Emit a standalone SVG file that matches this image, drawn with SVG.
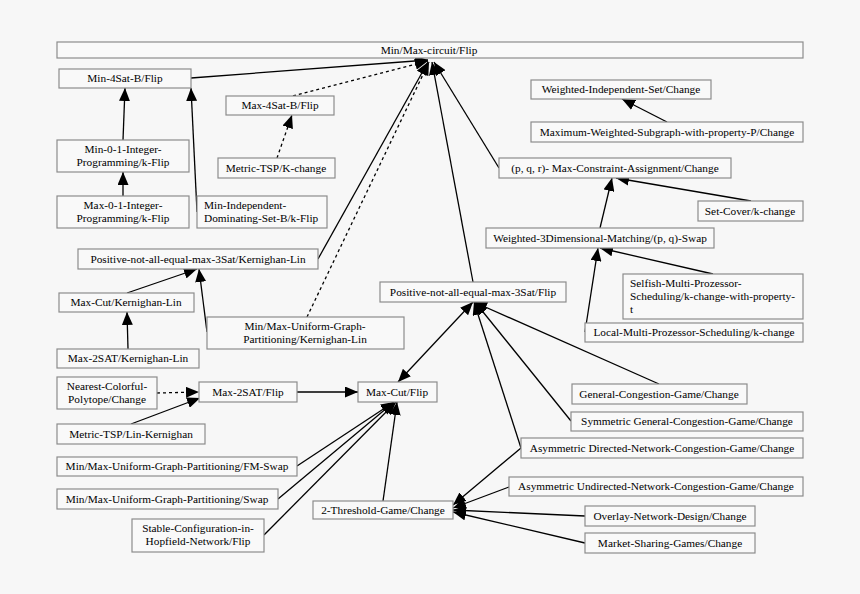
<svg xmlns="http://www.w3.org/2000/svg" width="860" height="594" viewBox="0 0 860 594">
<defs>
<style>
.n rect{fill:#f9f9f9;stroke:#8c8c8c;stroke-width:1.2}
.n text{font-family:"Liberation Serif","Times New Roman",serif;font-size:11.3px;fill:#000}
.c{text-anchor:middle}
#edges path{fill:none;stroke:#000;stroke-width:1.3;marker-end:url(#ah)}
#edges path.d{stroke-dasharray:3,3}
</style>
<marker id="ah" markerUnits="userSpaceOnUse" markerWidth="13" markerHeight="11" refX="13" refY="5.5" orient="auto"><path d="M0,0 L13,5.5 L0,11 z" fill="#000"/></marker>
<marker id="as" markerUnits="userSpaceOnUse" markerWidth="13" markerHeight="11" refX="13" refY="5.5" orient="auto-start-reverse"><path d="M0,0 L13,5.5 L0,11 z" fill="#000"/></marker>
</defs>
<rect width="860" height="594" fill="#f7f7f7"/>
<g id="edges">
<path d="M191,78 L428,60"/>
<path class="d" d="M293,96 L428,61"/>
<path class="d" d="M277,158 L292,115"/>
<path d="M123,140 L125,88"/>
<path d="M123,196 L123,172"/>
<path d="M197,212 L191,88"/>
<path d="M318,259 L428,62"/>
<path class="d" d="M307,317 L429,62"/>
<path d="M473,282 L432,62"/>
<path d="M499,168 L434,62"/>
<path d="M667,122 L622,99"/>
<path d="M751,201 L616,178"/>
<path d="M600,228 L612,178"/>
<path d="M713,274 L600,248"/>
<path d="M585,332 L598,248"/>
<path d="M127,293 L197,269"/>
<path d="M207,332 L199,269"/>
<path d="M128,349 L127,312"/>
<path class="d" d="M157,393 L199,392"/>
<path d="M131,424 L200,398"/>
<path d="M297,392 L358,392"/>
<path d="M398,382 L473,302" style="marker-start:url(#as)"/>
<path d="M659,384 L474,302"/>
<path d="M571,421 L475,302"/>
<path d="M521,448 L474,302"/>
<path d="M521,448 L453,505"/>
<path d="M509,487 L453,508"/>
<path d="M585,516 L453,510"/>
<path d="M585,543 L453,512"/>
<path d="M383,501 L397,402"/>
<path d="M297,466 L394,402"/>
<path d="M278,499 L394,402"/>
<path d="M264,535 L396,402"/>
</g>
<g id="n1" class="n"><rect x="57" y="42" width="746" height="16"/><text class="c" x="429" y="54">Min/Max-circuit/Flip</text></g>
<g id="n2" class="n"><rect x="59" y="69" width="132" height="19"/><text class="c" x="125" y="82">Min-4Sat-B/Flip</text></g>
<g id="n3" class="n"><rect x="226" y="96" width="108" height="19"/><text class="c" x="280" y="109">Max-4Sat-B/Flip</text></g>
<g id="n4" class="n"><rect x="531" y="80" width="180" height="19"/><text class="c" x="621" y="93">Weighted-Independent-Set/Change</text></g>
<g id="n5" class="n"><rect x="531" y="122" width="272" height="20"/><text class="c" x="667" y="136">Maximum-Weighted-Subgraph-with-property-P/Change</text></g>
<g id="n6" class="n"><rect x="57" y="140" width="132" height="32"/><text class="c" x="123" y="153">Min-0-1-Integer-</text><text class="c" x="123" y="166">Programming/k-Flip</text></g>
<g id="n7" class="n"><rect x="218" y="158" width="117" height="20"/><text class="c" x="276" y="172">Metric-TSP/K-change</text></g>
<g id="n8" class="n"><rect x="499" y="158" width="232" height="20"/><text class="c" x="615" y="172">(p, q, r)- Max-Constraint-Assignment/Change</text></g>
<g id="n9" class="n"><rect x="57" y="196" width="132" height="32"/><text class="c" x="123" y="209">Max-0-1-Integer-</text><text class="c" x="123" y="222">Programming/k-Flip</text></g>
<g id="n10" class="n"><rect x="197" y="196" width="130" height="32"/><text x="204" y="209">Min-Independent-</text><text x="204" y="222">Dominating-Set-B/k-Flip</text></g>
<g id="n11" class="n"><rect x="698" y="201" width="105" height="20"/><text class="c" x="750" y="215">Set-Cover/k-change</text></g>
<g id="n12" class="n"><rect x="486" y="228" width="228" height="20"/><text class="c" x="600" y="242">Weighted-3Dimensional-Matching/(p, q)-Swap</text></g>
<g id="n13" class="n"><rect x="78" y="249" width="240" height="20"/><text class="c" x="198" y="263">Positive-not-all-equal-max-3Sat/Kernighan-Lin</text></g>
<g id="n14" class="n"><rect x="623" y="274" width="180" height="45"/><text x="630" y="287">Selfish-Multi-Prozessor-</text><text x="630" y="300">Scheduling/k-change-with-property-</text><text x="630" y="313">t</text></g>
<g id="n15" class="n"><rect x="380" y="282" width="186" height="20"/><text class="c" x="473" y="296">Positive-not-all-equal-max-3Sat/Flip</text></g>
<g id="n16" class="n"><rect x="59" y="293" width="135" height="19"/><text class="c" x="126" y="306">Max-Cut/Kernighan-Lin</text></g>
<g id="n17" class="n"><rect x="207" y="317" width="197" height="32"/><text class="c" x="305" y="330">Min/Max-Uniform-Graph-</text><text class="c" x="305" y="343">Partitioning/Kernighan-Lin</text></g>
<g id="n18" class="n"><rect x="585" y="323" width="218" height="19"/><text class="c" x="694" y="336">Local-Multi-Prozessor-Scheduling/k-change</text></g>
<g id="n19" class="n"><rect x="57" y="349" width="142" height="19"/><text class="c" x="128" y="362">Max-2SAT/Kernighan-Lin</text></g>
<g id="n20" class="n"><rect x="57" y="377" width="100" height="32"/><text class="c" x="107" y="390">Nearest-Colorful-</text><text class="c" x="107" y="403">Polytope/Change</text></g>
<g id="n21" class="n"><rect x="199" y="382" width="98" height="20"/><text class="c" x="248" y="396">Max-2SAT/Flip</text></g>
<g id="n22" class="n"><rect x="358" y="382" width="79" height="20"/><text class="c" x="397" y="396">Max-Cut/Flip</text></g>
<g id="n23" class="n"><rect x="572" y="384" width="175" height="20"/><text class="c" x="659" y="398">General-Congestion-Game/Change</text></g>
<g id="n24" class="n"><rect x="571" y="412" width="232" height="19"/><text class="c" x="687" y="425">Symmetric General-Congestion-Game/Change</text></g>
<g id="n25" class="n"><rect x="57" y="424" width="148" height="20"/><text class="c" x="131" y="438">Metric-TSP/Lin-Kernighan</text></g>
<g id="n26" class="n"><rect x="521" y="438" width="282" height="20"/><text class="c" x="662" y="452">Asymmetric Directed-Network-Congestion-Game/Change</text></g>
<g id="n27" class="n"><rect x="57" y="457" width="240" height="19"/><text class="c" x="177" y="470">Min/Max-Uniform-Graph-Partitioning/FM-Swap</text></g>
<g id="n28" class="n"><rect x="509" y="477" width="294" height="19"/><text class="c" x="656" y="490">Asymmetric Undirected-Network-Congestion-Game/Change</text></g>
<g id="n29" class="n"><rect x="57" y="489" width="221" height="20"/><text class="c" x="167" y="503">Min/Max-Uniform-Graph-Partitioning/Swap</text></g>
<g id="n30" class="n"><rect x="313" y="501" width="140" height="18"/><text class="c" x="383" y="514">2-Threshold-Game/Change</text></g>
<g id="n31" class="n"><rect x="585" y="506" width="170" height="20"/><text class="c" x="670" y="520">Overlay-Network-Design/Change</text></g>
<g id="n32" class="n"><rect x="132" y="519" width="132" height="33"/><text class="c" x="198" y="532">Stable-Configuration-in-</text><text class="c" x="198" y="545">Hopfield-Network/Flip</text></g>
<g id="n33" class="n"><rect x="585" y="533" width="170" height="20"/><text class="c" x="670" y="547">Market-Sharing-Games/Change</text></g>
</svg>
